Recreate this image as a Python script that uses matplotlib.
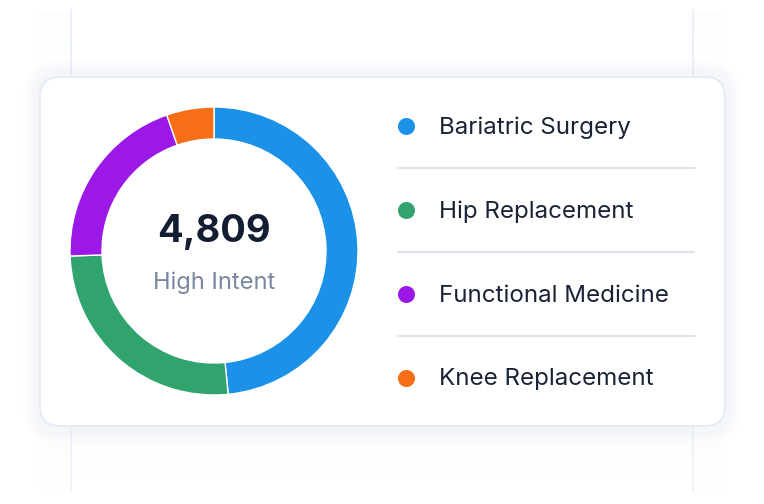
import numpy as np
import matplotlib
matplotlib.use("Agg")
import matplotlib.pyplot as plt
from matplotlib.patches import FancyBboxPatch, Rectangle

# ---- data ----
categories = ["Bariatric Surgery", "Hip Replacement", "Functional Medicine", "Knee Replacement"]
values = [2329, 1251, 973, 256]
colors = ["#1b91e7", "#31a46d", "#9b18e6", "#f66e16"]
total_label = "4,809"
sub_label = "High Intent"

W, H = 764, 504
plt.rcParams["font.family"] = ["Inter", "DejaVu Sans"]

fig = plt.figure(figsize=(W / 100, H / 100), dpi=100)
ax = fig.add_axes([0, 0, 1, 1])
ax.set_xlim(0, W)
ax.set_ylim(0, H)
ax.set_aspect("equal")
ax.axis("off")


def py(y):
    # pixel row (from top) -> data y (from bottom)
    return H - y


# ---- faint stacked cards behind ----
for x0, x1 in [(38, 71), (693, 726)]:
    for i in range(20):
        a = 0.035 * (1 - i / 20)
        ax.add_patch(Rectangle((x0, py(12 + i * 3.2)), x1 - x0, -3.2,
                               color="#c8cdd6", alpha=a, lw=0, zorder=0))
        ax.add_patch(Rectangle((x0, py(430 + i * 3.2)), x1 - x0, -3.2,
                               color="#c8cdd6", alpha=a, lw=0, zorder=0))
for x in (71, 693):
    ax.plot([x, x], [py(10), py(77)], color="#e6ecf8", lw=1.2, zorder=1)
    ax.plot([x, x], [py(426), py(492)], color="#eef2fa", lw=1.2, zorder=1)

# shadow below the card
for i in range(16):
    a = 0.05 * (1 - i / 16)
    ax.add_patch(Rectangle((71, py(426 + i * 3)), 622, -3,
                           color="#b8bec8", alpha=a, lw=0, zorder=1))
# soft shadow around the card
for k in range(6):
    pad = 2 + k * 3
    ax.add_patch(FancyBboxPatch((40 - pad, py(426) - pad), 685 + 2 * pad, 349 + 2 * pad,
                                boxstyle="round,pad=0,rounding_size=%d" % (20 + pad),
                                fc="#9aa3b0", ec="none", alpha=0.012, zorder=1))

# ---- card ----
card = FancyBboxPatch((40, py(426)), 685, 349,
                      boxstyle="round,pad=0,rounding_size=20",
                      fc="white", ec="#e4eaf7", lw=1.3, zorder=2)
ax.add_patch(card)

# ---- donut ----
cx, cy = 214, py(251)
ax.pie(values, colors=colors, startangle=90, counterclock=False,
       center=(cx, cy), radius=144, frame=True,
       wedgeprops=dict(width=32, edgecolor="white", linewidth=1.0, zorder=3))
ax.set_xlim(0, W)
ax.set_ylim(0, H)
ax.axis("off")

ax.text(cx, py(232), total_label, ha="center", va="center", fontsize=27.4,
        fontweight="bold", color="#141e33", zorder=4)
ax.text(cx, py(283), sub_label, ha="center", va="center", fontsize=17,
        color="#7a879e", zorder=4)

# ---- legend rows ----
row_y = [126, 210, 294, 378]
for name, c, y in zip(categories, colors, row_y):
    ax.scatter([406], [py(y)], s=150, color=c, lw=0, zorder=4)
    ax.text(439, py(y) - 1.5, name, ha="left", va="center", fontsize=17.4,
            color="#1a2236", zorder=4)
for y in [(row_y[i] + row_y[i + 1]) / 2 for i in range(3)]:
    ax.plot([398, 694], [py(y), py(y)], color="#dde3ea", lw=1.6, zorder=3)

fig.savefig("out.png", dpi=100)
